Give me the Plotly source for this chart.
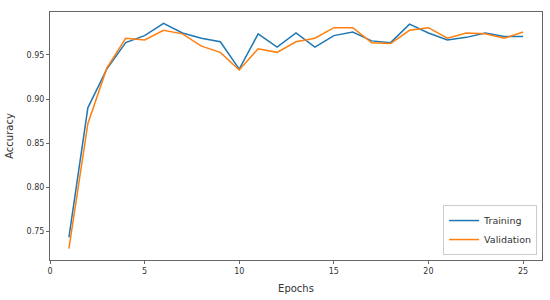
import plotly.graph_objects as go

# Accuracy per epoch
epochs = list(range(1, 26))
training_acc = [0.743, 0.890, 0.934, 0.964, 0.972, 0.986, 0.975, 0.969, 0.965, 0.934,
                0.974, 0.959, 0.975, 0.959, 0.972, 0.976, 0.966, 0.964, 0.985, 0.975,
                0.967, 0.970, 0.975, 0.971, 0.971]
validation_acc = [0.730, 0.872, 0.935, 0.969, 0.967, 0.978, 0.974, 0.960, 0.953, 0.933,
                  0.957, 0.953, 0.965, 0.969, 0.981, 0.981, 0.964, 0.963, 0.978, 0.981,
                  0.969, 0.975, 0.974, 0.969, 0.976]

x_ticks = [0, 5, 10, 15, 20, 25]
y_ticks = [0.75, 0.80, 0.85, 0.90, 0.95]

fig = go.Figure()
fig.add_trace(go.Scatter(x=epochs, y=training_acc, mode="lines", name="Training",
                         line=dict(color="#1f77b4", width=1.5)))
fig.add_trace(go.Scatter(x=epochs, y=validation_acc, mode="lines", name="Validation",
                         line=dict(color="#ff7f0e", width=1.5)))

axis_style = dict(showline=True, linecolor="#666", linewidth=1, mirror=True,
                  showgrid=False, zeroline=False, ticks="outside", ticklen=3,
                  tickcolor="#666", tickfont=dict(size=8, color="#333"))

fig.update_xaxes(range=[0, 26], tickvals=x_ticks,
                 title=dict(text="Epochs", font=dict(size=10, color="#333"), standoff=10),
                 **axis_style)
fig.update_yaxes(range=[0.7172, 0.9988], tickvals=y_ticks, tickformat=".2f",
                 title=dict(text="Accuracy", font=dict(size=10, color="#333"), standoff=11),
                 **axis_style)

fig.update_layout(
    width=550, height=300,
    margin=dict(l=50, r=7, t=12, b=37),
    paper_bgcolor="white", plot_bgcolor="white",
    font=dict(family="DejaVu Sans"),
    legend=dict(x=0.99, y=0.02, xanchor="right", yanchor="bottom",
                bgcolor="white", bordercolor="#ccc", borderwidth=1,
                font=dict(size=9.5, color="#333"), itemwidth=30,
                tracegroupgap=0),
)

# drop the page's default body margin so the figure sits at the window's corner
fig.write_html("out.html", config={"displayModeBar": False},
               post_script="document.body.style.margin='0';")
